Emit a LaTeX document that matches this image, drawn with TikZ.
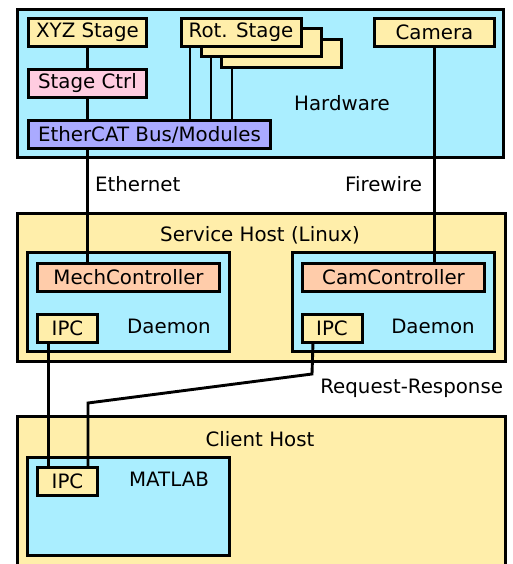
\documentclass[tikz,border=0pt]{standalone}
\usepackage{fontspec}
\setmainfont{DejaVu Sans}
\definecolor{hwcyan}{HTML}{AAEEFF}
\definecolor{boxyellow}{HTML}{FFEEAA}
\definecolor{boxpink}{HTML}{FFCCE0}
\definecolor{boxpurple}{HTML}{AAAAFF}
\definecolor{boxsalmon}{HTML}{FFCCAA}
\begin{document}
\begin{tikzpicture}[x=1pt,y=-1pt,
  every node/.style={font=\fontsize{19.8}{23}\selectfont, inner sep=0pt, outer sep=0pt},
  frame/.style={draw=black, line width=3.2pt, rectangle},
  outerbox/.style={frame, fill=#1},
  box/.style={frame, line width=3pt, fill=#1, minimum height=28pt},
  wire/.style={draw=black, line width=2.9pt},
  lbl/.style={}
]
\clip (0,0) rectangle (513,564);
\fill[white] (0,0) rectangle (513,564);

% Hardware
\node[outerbox=hwcyan, minimum width=486pt, minimum height=148pt] (hw) at (260.5,83.5) {};
\node[lbl] (hwl) at (342,103) {Hardware};
\node[box=boxyellow, minimum width=118pt] (xyz) at (87.5,32.5) {XYZ Stage};
\node[box=boxpink, minimum width=118pt] (ctrl) at (87.5,83.5) {Stage Ctrl};
\node[box=boxpurple, minimum width=242pt] (ether) at (149.5,134.5) {EtherCAT Bus/Modules};
\node[box=boxyellow, minimum width=120pt] (rot3) at (281,53.5) {};
\node[box=boxyellow, minimum width=120pt] (rot2) at (261,43) {};
\node[box=boxyellow, minimum width=120pt] (rot1) at (241,32.5) {Rot. Stage};
\node[box=boxyellow, minimum width=120pt] (cam) at (434.5,32.5) {Camera};

\draw[wire] (xyz.south) -- (ctrl.north);
\draw[wire] (ctrl.south) -- (ether.north -| ctrl.south);
\draw[wire] ([xshift=9pt]rot1.south west) -- ([xshift=9pt]rot1.south west |- ether.north);
\draw[wire] ([xshift=10pt]rot2.south west) -- ([xshift=10pt]rot2.south west |- ether.north);
\draw[wire] ([xshift=11pt]rot3.south west) -- ([xshift=11pt]rot3.south west |- ether.north);

% Service host
\node[outerbox=boxyellow, minimum width=488pt, minimum height=148pt] (svc) at (261.5,287.5) {};
\node[lbl] (svcl) at (260,235) {Service Host (Linux)};
\node[frame, line width=3pt, fill=hwcyan, minimum width=202pt, minimum height=99pt] (dl) at (128.5,302) {};
\node[box=boxsalmon, minimum width=182pt] (mech) at (128.5,277.5) {MechController};
\node[box=boxyellow, minimum width=60pt] (ipcl) at (67.5,328.5) {IPC};
\node[lbl] (dll) at (169,326) {Daemon};
\node[frame, line width=3pt, fill=hwcyan, minimum width=202pt, minimum height=99pt] (dr) at (393.5,302) {};
\node[box=boxsalmon, minimum width=182pt] (camc) at (393.5,277.5) {CamController};
\node[box=boxyellow, minimum width=60pt] (ipcr) at (332,328.5) {IPC};
\node[lbl] (drl) at (433,326) {Daemon};

\draw[wire] (ether.south -| xyz.south) -- (mech.north -| xyz.south);
\draw[wire] (cam.south) -- (camc.north -| cam.south);
\node[lbl, anchor=west] (eth) at (95,184) {Ethernet};
\node[lbl, anchor=east] (fw) at (422,184) {Firewire};

% Client host
\node[outerbox=boxyellow, minimum width=488pt, minimum height=200pt, anchor=north west] (cli) at (17.5,416.5) {};
\node[lbl] (clil) at (260,439) {Client Host};
\node[frame, line width=3pt, fill=hwcyan, minimum width=202pt, minimum height=98pt] (mat) at (128.5,506.5) {};
\node[box=boxyellow, minimum width=60pt] (ipcc) at (67.5,481) {IPC};
\node[lbl] (matl) at (169,479) {MATLAB};

\draw[wire] ([xshift=11pt]ipcl.south west) -- ([xshift=11pt]ipcl.south west |- ipcc.north);
\coordinate (k1) at (312,374);
\coordinate (k2) at (88,403);
\draw[wire] ([xshift=11pt]ipcr.south west) -- (k1) -- (k2) -- (k2 |- ipcc.north);
\node[lbl, anchor=east] (rr) at (503,388) {Request-Response};
\end{tikzpicture}
\end{document}
